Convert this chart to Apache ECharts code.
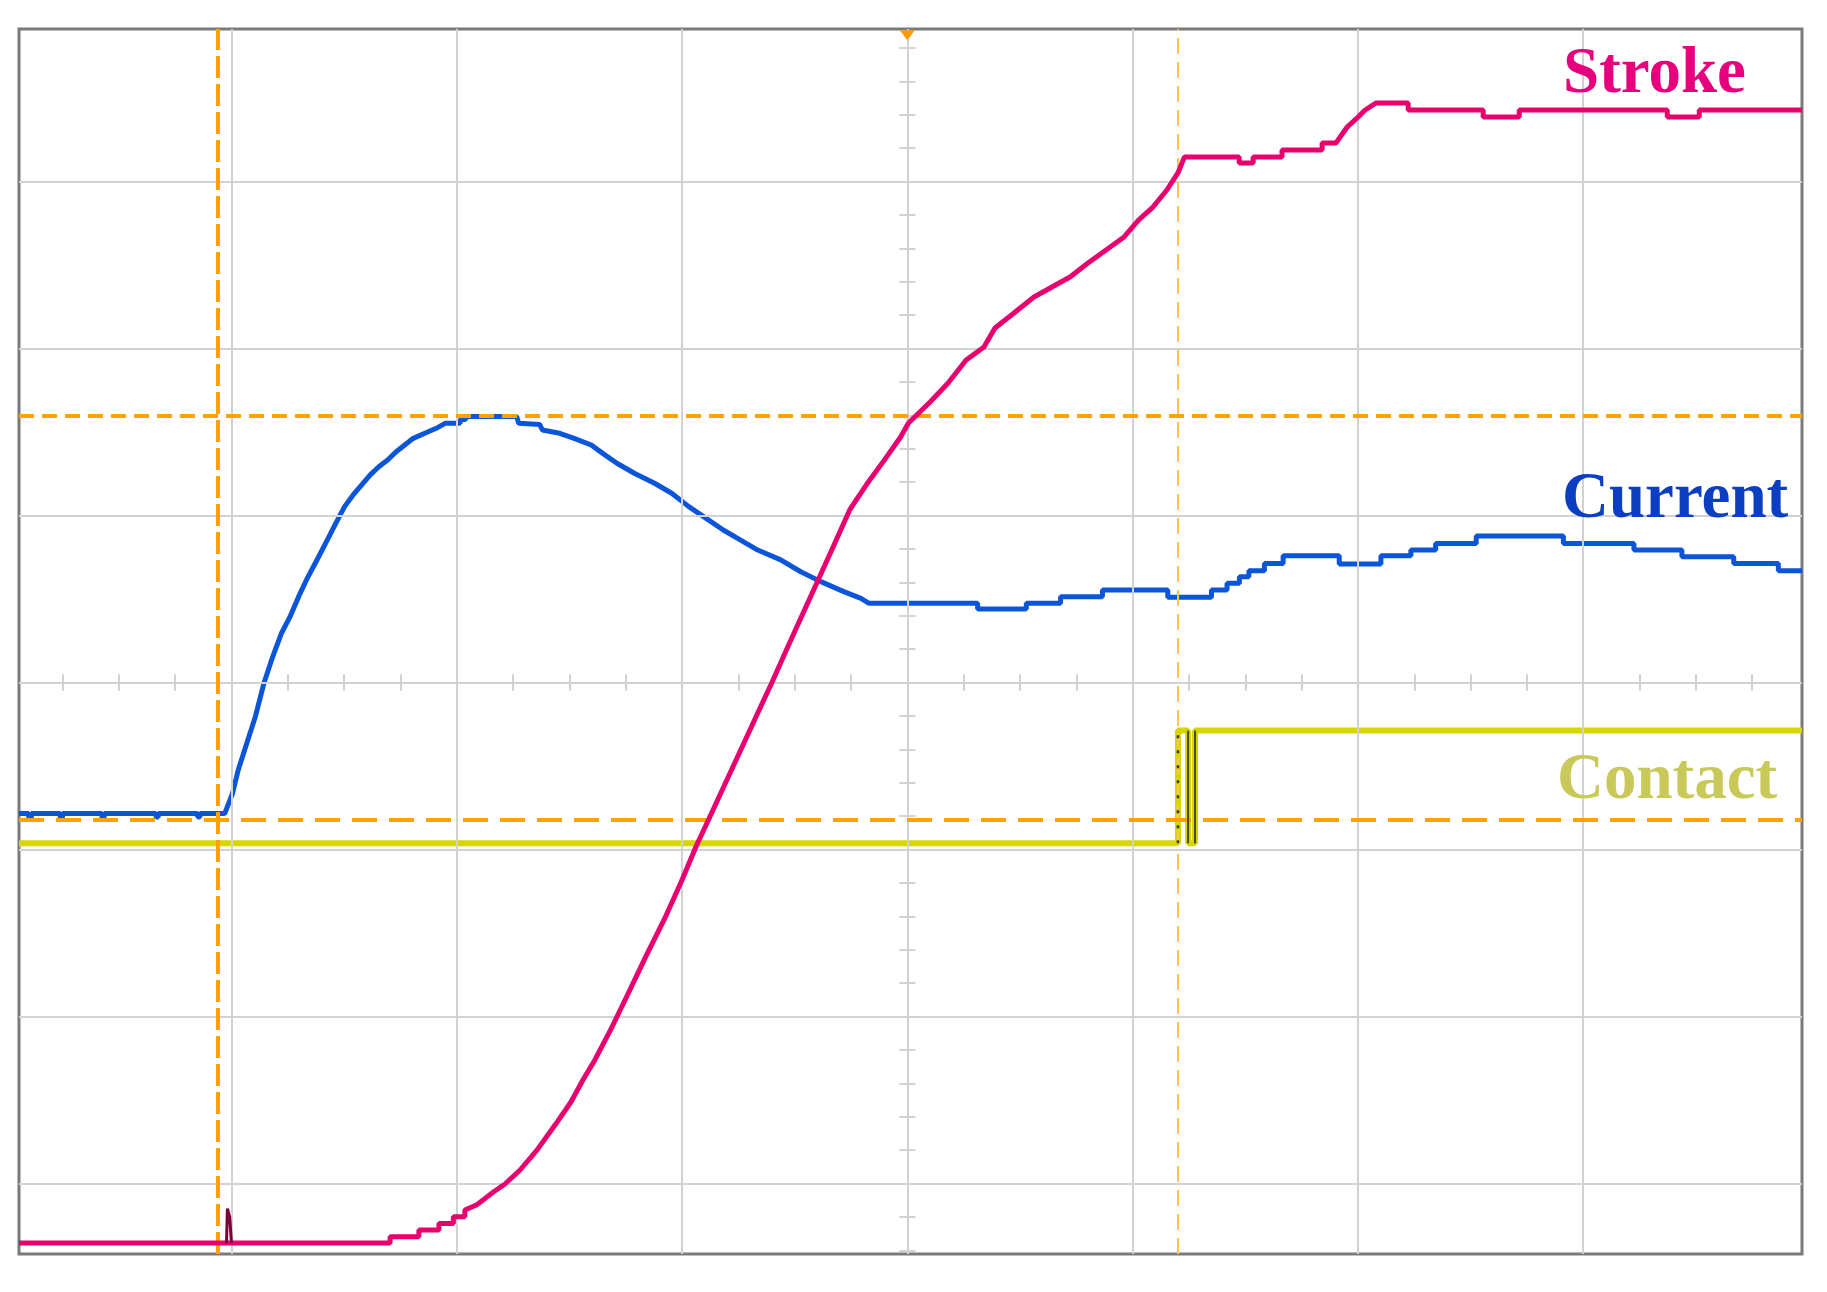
<!DOCTYPE html>
<html>
<head>
<meta charset="utf-8">
<script src="https://cdn.jsdelivr.net/npm/echarts/dist/echarts.min.js"></script>
<style>
html,body{margin:0;padding:0;background:#ffffff;}
#chart{width:1827px;height:1292px;}
</style>
</head>
<body>
<div id="chart"></div>
<script>
// ---- Oscilloscope screen, units = divisions ----
const xExtent = [-3.943, 3.971];
const yExtent = [-3.422, 3.913];
const gridDivsX = [-3, -2, -1, 0, 1, 2, 3];
const gridDivsY = [-3, -2, -1, 0, 1, 2, 3];
const minorStepX = 0.25;   // minor ticks on horizontal centre line
const minorStepY = 0.2;    // minor ticks on vertical centre line

// ---- Traces (x div, y div) ----
const currentData = [
  [-3.943,-0.785],[-3.900,-0.785],[-3.900,-0.808],[-3.888,-0.808],[-3.888,-0.785],
  [-3.760,-0.785],[-3.760,-0.808],[-3.750,-0.808],[-3.750,-0.785],
  [-3.575,-0.785],[-3.575,-0.808],[-3.565,-0.808],[-3.565,-0.785],
  [-3.335,-0.785],[-3.335,-0.805],[-3.325,-0.805],[-3.325,-0.785],
  [-3.150,-0.785],[-3.150,-0.805],[-3.140,-0.805],[-3.140,-0.785],
  [-3.030,-0.785],
  [-2.995,-0.663],[-2.970,-0.524],[-2.932,-0.364],[-2.894,-0.205],[-2.856,-0.005],
  [-2.817,0.154],[-2.778,0.295],[-2.740,0.394],[-2.702,0.514],[-2.665,0.620],
  [-2.613,0.753],[-2.575,0.853],[-2.537,0.953],[-2.498,1.053],[-2.460,1.123],
  [-2.422,1.183],[-2.384,1.243],[-2.346,1.292],[-2.307,1.332],[-2.269,1.382],
  [-2.231,1.422],[-2.193,1.462],[-2.142,1.492],[-2.091,1.522],[-2.052,1.552],
  [-1.985,1.552],[-1.985,1.575],[-1.960,1.575],[-1.960,1.592],[-1.734,1.592],
  [-1.725,1.552],[-1.632,1.545],[-1.620,1.512],[-1.543,1.492],[-1.479,1.462],
  [-1.403,1.422],[-1.352,1.372],[-1.289,1.313],[-1.212,1.253],[-1.122,1.193],
  [-1.046,1.133],[-0.970,1.053],[-0.893,0.983],[-0.817,0.913],[-0.740,0.853],
  [-0.664,0.793],[-0.562,0.734],[-0.473,0.663],[-0.384,0.604],[-0.282,0.544],
  [-0.206,0.504],[-0.170,0.474],
  [0.312,0.474],[0.312,0.440],[0.528,0.440],[0.528,0.474],[0.680,0.474],[0.680,0.514],
  [0.866,0.514],[0.866,0.554],[1.156,0.554],[1.156,0.510],[1.350,0.510],[1.350,0.554],
  [1.419,0.554],[1.419,0.594],[1.474,0.594],[1.474,0.633],[1.516,0.633],[1.516,0.669],
  [1.585,0.669],[1.585,0.713],[1.668,0.713],[1.668,0.759],[1.917,0.759],[1.917,0.709],
  [2.102,0.709],[2.102,0.759],[2.235,0.759],[2.235,0.793],[2.345,0.793],[2.345,0.833],
  [2.525,0.833],[2.525,0.877],[2.912,0.877],[2.912,0.833],[3.225,0.833],[3.225,0.793],
  [3.438,0.793],[3.438,0.753],[3.668,0.753],[3.668,0.713],[3.866,0.713],[3.866,0.669],
  [3.971,0.669]
];

const strokeData = [
  [-3.943,-3.356],[-2.296,-3.356],[-2.296,-3.319],[-2.168,-3.319],[-2.168,-3.279],
  [-2.079,-3.279],[-2.079,-3.239],[-2.015,-3.239],[-2.015,-3.199],[-1.964,-3.199],
  [-1.964,-3.159],[-1.913,-3.129],[-1.874,-3.089],[-1.836,-3.049],[-1.786,-3.003],
  [-1.719,-2.919],[-1.644,-2.800],[-1.564,-2.650],[-1.493,-2.512],[-1.440,-2.380],
  [-1.387,-2.260],[-1.311,-2.063],[-1.236,-1.853],[-1.160,-1.638],[-1.080,-1.422],
  [-1.004,-1.195],[-0.933,-0.967],[-0.881,-0.817],[-0.792,-0.557],[-0.716,-0.335],
  [-0.641,-0.115],[-0.601,0.000],[-0.525,0.230],[-0.458,0.430],[-0.396,0.614],
  [-0.320,0.840],[-0.256,1.033],[-0.179,1.190],[-0.103,1.330],[-0.030,1.470],
  [0.005,1.554],[0.101,1.680],[0.181,1.793],[0.261,1.931],[0.340,2.009],[0.389,2.123],
  [0.451,2.189],[0.562,2.308],[0.642,2.368],[0.722,2.428],[0.802,2.512],[0.882,2.590],
  [0.962,2.668],[1.026,2.769],[1.090,2.847],[1.152,2.949],[1.201,3.051],[1.230,3.147],
  [1.473,3.147],[1.473,3.111],[1.535,3.111],[1.535,3.147],[1.663,3.147],[1.663,3.189],
  [1.841,3.189],[1.841,3.231],[1.903,3.231],[1.952,3.326],[2.001,3.386],[2.032,3.428],
  [2.081,3.470],[2.223,3.470],[2.223,3.428],[2.556,3.428],[2.556,3.386],[2.716,3.386],
  [2.716,3.428],[3.373,3.428],[3.373,3.386],[3.515,3.386],[3.515,3.428],[3.971,3.428]
];

const strokeGlitch = [[-3.022,-3.356],[-3.018,-3.150],[-3.008,-3.200],[-3.000,-3.356]];

const contactLow = -0.963;
const contactHigh = -0.288;
const contactData = [
  [-3.943,contactLow],[1.201,contactLow],[1.201,contactHigh],[1.246,contactHigh],
  [1.246,contactLow],[1.277,contactLow],[1.277,contactHigh],[3.971,contactHigh]
];
const contactEdgeX = [1.246, 1.277];
const contactRiseX = [1.201];

// ---- Cursors ----
const cursorX = [-3.062, 1.202];
const cursorY = [1.596, -0.817];
const triggerX = 0;

// ---- Labels ----
const labelTexts = ['Stroke', 'Current', 'Contact'];

// ================= build =================
const gridColor = '#d2d2d2';
const gridMarks = [];
gridDivsX.forEach(v => gridMarks.push({xAxis: v}));
gridDivsY.forEach(v => gridMarks.push({yAxis: v}));
for (let k = Math.ceil(xExtent[0] / minorStepX); k * minorStepX <= xExtent[1]; k++) {
  const x = k * minorStepX;
  gridMarks.push([{coord: [x, -0.05]}, {coord: [x, 0.05]}]);
}
for (let k = Math.ceil(yExtent[0] / minorStepY); k * minorStepY <= yExtent[1]; k++) {
  const y = +(k * minorStepY).toFixed(4);
  gridMarks.push([{coord: [-0.036, y]}, {coord: [0.036, y]}]);
}

const cursorStyles = {
  x: [{color: '#FFA200', width: 4, type: [22, 6]}, {color: '#FFC54A', width: 2, type: [16, 8]}],
  y: [{color: '#FFA200', width: 4, type: [15, 8]}, {color: '#FFA200', width: 4, type: [25, 12]}]
};
const cursorMarks = [];
cursorX.forEach((v, i) => cursorMarks.push({xAxis: v, lineStyle: cursorStyles.x[i]}));
cursorY.forEach((v, i) => cursorMarks.push({yAxis: v, lineStyle: cursorStyles.y[i]}));

const edgeSeries = [];
contactEdgeX.forEach(x => edgeSeries.push({
  type: 'line', data: [[x, contactLow], [x, contactHigh]], showSymbol: false, z: 6,
  lineStyle: {color: '#4a4a10', width: 2}, animation: false, silent: true
}));
contactRiseX.forEach(x => edgeSeries.push({
  type: 'line', data: [[x, contactLow], [x, contactHigh]], showSymbol: false, z: 6,
  lineStyle: {color: '#3a3a20', width: 2.5, type: [3, 12]}, animation: false, silent: true
}));

const labelPos = [
  {x: 1563, y: 75, color: '#E6007E'},
  {x: 1562, y: 500, color: '#0B3EC0'},
  {x: 1557, y: 781, color: '#C9C95A'}
];

const chart = echarts.init(document.getElementById('chart'), null, {renderer: 'canvas'});
chart.setOption({
  animation: false,
  backgroundColor: '#ffffff',
  grid: {
    left: 19, top: 29, width: 1783, height: 1225,
    show: true, borderColor: '#7a7a7a', borderWidth: 3, backgroundColor: '#ffffff'
  },
  xAxis: {
    type: 'value', min: xExtent[0], max: xExtent[1],
    axisLine: {show: false}, axisTick: {show: false}, axisLabel: {show: false}, splitLine: {show: false}
  },
  yAxis: {
    type: 'value', min: yExtent[0], max: yExtent[1],
    axisLine: {show: false}, axisTick: {show: false}, axisLabel: {show: false}, splitLine: {show: false}
  },
  series: [
    {
      name: 'grid', type: 'line', data: [], z: 1, silent: true,
      markLine: {
        silent: true, symbol: ['none', 'none'], label: {show: false}, animation: false,
        lineStyle: {color: gridColor, width: 2, type: 'solid'},
        data: gridMarks
      }
    },
    {
      name: 'Contact', type: 'line', data: contactData, showSymbol: false, z: 3,
      lineStyle: {color: '#D6D600', width: 6}, silent: true
    },
    {
      name: 'Current', type: 'line', data: currentData, showSymbol: false, z: 4,
      lineStyle: {color: '#0A55D8', width: 5}, silent: true
    },
    {
      name: 'Stroke', type: 'line', data: strokeData, showSymbol: false, z: 5,
      lineStyle: {color: '#E8006F', width: 5}, silent: true
    },
    {
      name: 'StrokeGlitch', type: 'line', data: strokeGlitch, showSymbol: false, z: 5,
      lineStyle: {color: '#7a0038', width: 3}, silent: true
    },
    ...edgeSeries,
    {
      name: 'cursors', type: 'line', data: [], z: 7, silent: true,
      markLine: {
        silent: true, symbol: ['none', 'none'], label: {show: false}, animation: false,
        data: cursorMarks
      },
      markPoint: {
        silent: true, animation: false, label: {show: false},
        data: [{coord: [triggerX, 3.875], symbol: 'triangle', symbolRotate: 180,
                symbolSize: [15, 10], itemStyle: {color: '#FF9A00'}}]
      }
    }
  ],
  graphic: labelTexts.map((t, i) => ({
    type: 'text', x: labelPos[i].x, y: labelPos[i].y, z: 100,
    style: {
      text: t, fill: labelPos[i].color,
      font: 'bold 65px "Liberation Serif", "Times New Roman", serif',
      align: 'left', verticalAlign: 'middle',
      textAlign: 'left', textVerticalAlign: 'middle'
    }
  }))
});
</script>
</body>
</html>
